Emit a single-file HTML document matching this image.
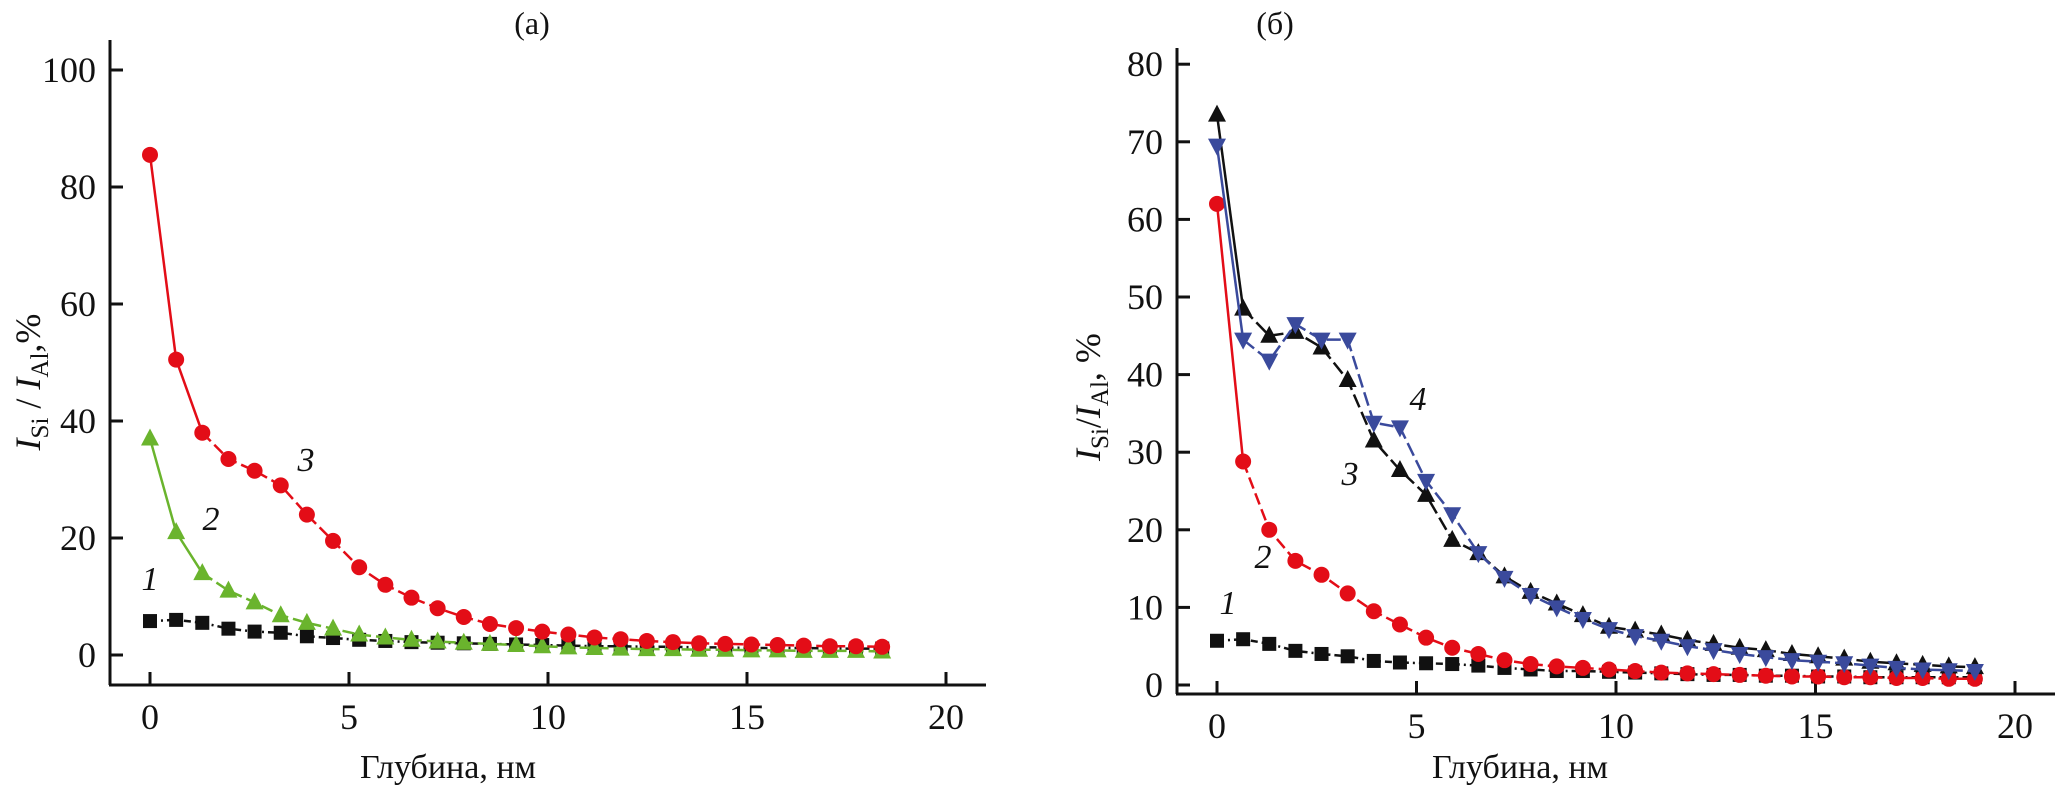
<!DOCTYPE html>
<html><head><meta charset="utf-8"><style>
html,body{margin:0;padding:0;background:#fff;}
svg{display:block;font-family:"Liberation Serif",serif;}
</style></head><body>
<svg id="c" width="2067" height="792" xmlns="http://www.w3.org/2000/svg"></svg>
<script>
// ---- data ----
const xStepA = 0.657;
const xStepB = 0.655;
const yTicksA = [0, 20, 40, 60, 80, 100];
const yTicksB = [0, 10, 20, 30, 40, 50, 60, 70, 80];
const xTicks = [0, 5, 10, 15, 20];
const a1 = [5.8,6.0,5.5,4.5,4.0,3.8,3.2,2.9,2.6,2.4,2.2,2.1,2.0,1.9,1.8,1.7,1.6,1.5,1.5,1.4,1.4,1.3,1.3,1.2,1.2,1.2,1.1,1.1,1.1];
const a2 = [37,21,14,11,9,6.8,5.5,4.5,3.5,3,2.6,2.3,2.1,1.9,1.7,1.5,1.3,1.2,1.1,1,1,0.9,0.9,0.8,0.8,0.7,0.7,0.7,0.6];
const a3 = [85.5,50.5,38,33.5,31.5,29,24,19.5,15,12,9.8,8,6.5,5.3,4.6,4,3.5,3,2.7,2.4,2.2,2,1.9,1.8,1.7,1.6,1.5,1.5,1.4];
const b1 = [5.7,5.9,5.3,4.4,4.0,3.7,3.1,2.9,2.8,2.7,2.5,2.2,2.0,1.8,1.8,1.7,1.6,1.5,1.4,1.3,1.3,1.2,1.2,1.1,1.1,1.0,1.0,1.0,1.0,1.0];
const b2 = [62,28.8,20,16,14.2,11.8,9.5,7.8,6.1,4.8,4,3.2,2.7,2.4,2.2,2.0,1.8,1.6,1.5,1.4,1.3,1.2,1.1,1.1,1.0,1.0,0.9,0.9,0.8,0.8];
const b3 = [73.5,48.5,45,45.5,43.5,39.3,31.5,27.7,24.5,18.7,17,14,12,10.5,9,7.5,7,6.5,5.8,5.3,4.8,4.5,4,3.7,3.4,3.0,2.8,2.6,2.4,2.3];
const b4 = [69.5,44.5,41.8,46.5,44.5,44.5,33.8,33.2,26.3,22,17,13.8,11.6,10,8.5,7.2,6.3,5.7,5.0,4.5,4.0,3.6,3.2,3.0,2.8,2.5,2.2,2.0,1.9,1.8];

const svg = document.getElementById('c');
const NS = 'http://www.w3.org/2000/svg';
function mk(tag, attrs, parent){ const e=document.createElementNS(NS,tag); for(const k in attrs) e.setAttribute(k,attrs[k]); (parent||svg).appendChild(e); return e; }

function panel(cfg){
  const g = mk('g',{});
  
  
  const X = v => cfg.x0 + v*cfg.xs;
  const Y = v => cfg.y0 - v*cfg.ys;
  const ya = mk('line',{x1:cfg.ax,y1:cfg.top,x2:cfg.ax,y2:cfg.xaxY,stroke:'#111','stroke-width':3},g);
   
  const xa = mk('line',{x1:cfg.ax-1,y1:cfg.xaxY,x2:cfg.right,y2:cfg.xaxY,stroke:'#111','stroke-width':3},g);
   
  cfg.yTicks.forEach(t=>{
    mk('line',{x1:cfg.ax,y1:Y(t),x2:cfg.ax+13,y2:Y(t),stroke:'#111','stroke-width':3},g);
    const tx = mk('text',{x:cfg.ax-14,y:Y(t)+12,'text-anchor':'end','font-size':36,fill:'#111'},g);
    tx.textContent = t;
     
  });
  xTicks.forEach(t=>{
    mk('line',{x1:X(t),y1:cfg.xaxY,x2:X(t),y2:cfg.xaxY-13,stroke:'#111','stroke-width':3},g);
    const tx = mk('text',{x:X(t),y:cfg.xaxY+44,'text-anchor':'middle','font-size':36,fill:'#111'},g);
    tx.textContent = t;
     
  });
  cfg.series.forEach(s=>{
    const pts = s.data.map((v,i)=>[X(i*cfg.step),Y(v)]);
    const solidPts = pts.slice(0, s.solid+1);
    if(s.solid>0){
      const p1 = mk('polyline',{points:solidPts.map(p=>p.join(',')).join(' '),fill:'none',stroke:s.color,'stroke-width':2.5},g);
       
    }
    const p2 = mk('polyline',{points:pts.slice(s.solid).map(p=>p.join(',')).join(' '),fill:'none',stroke:s.color,'stroke-width':2.5,'stroke-dasharray':s.dash},g);
     
    pts.forEach(p=>{
      let m;
      const [x,y]=p;
      if(s.marker==='circle') m = mk('circle',{cx:x,cy:y,r:8,fill:s.color},g);
      else if(s.marker==='square') m = mk('rect',{x:x-7,y:y-7,width:14,height:14,fill:s.color},g);
      else if(s.marker==='up') m = mk('polygon',{points:`${x},${y-10} ${x-9},${y+7} ${x+9},${y+7}`,fill:s.color},g);
      else m = mk('polygon',{points:`${x},${y+10} ${x-9},${y-7} ${x+9},${y-7}`,fill:s.color},g);
       
    });
  });
  cfg.labels.forEach(l=>{
    const t = mk('text',{x:l[1],y:l[2],'font-size':34,'font-style':'italic',fill:'#111','text-anchor':'middle'},g);
    t.textContent = l[0];
     
  });
  const xt = mk('text',{x:cfg.xtitleX,y:778,'font-size':34,'text-anchor':'middle',fill:'#111'},g);
  xt.textContent = 'Глубина, нм';
   
  const pt = mk('text',{x:cfg.titleX,y:34,'font-size':32,'text-anchor':'middle',fill:'#111'},g);
  pt.textContent = cfg.title;
   
  const yt = mk('text',{transform:`translate(${cfg.ytX},${cfg.ytY}) rotate(-90)`,'font-size':36,'text-anchor':'middle',fill:'#111'},g);
  yt.innerHTML = cfg.ytitle;
   
}

panel({name:'panel-a',x0:150,xs:39.8,y0:655,ys:5.85,ax:110,top:40,xaxY:685,right:986,step:xStepA,
  yTicks:yTicksA,title:'(a)',titleX:532,xtitleX:448,ytX:40,ytY:382,
  ytitle:'<tspan font-style="italic">I</tspan><tspan font-size="25" dy="8">Si</tspan><tspan dy="-8"> / </tspan><tspan font-style="italic">I</tspan><tspan font-size="25" dy="8">Al</tspan><tspan dy="-8">,%</tspan>',
  series:[
    {id:'a-series-1',data:a1,color:'#111',marker:'square',dash:'7,4,2,4',solid:0},
    {id:'a-series-2',data:a2,color:'#6ab42d',marker:'up',dash:'12,5',solid:2},
    {id:'a-series-3',data:a3,color:'#e30d17',marker:'circle',dash:'12,5',solid:2}],
  labels:[['1',150,590],['2',211,530],['3',306,471]]});

panel({name:'panel-b',x0:1217,xs:39.9,y0:685,ys:7.76,ax:1177,top:48,xaxY:694,right:2055,step:xStepB,
  yTicks:yTicksB,title:'(б)',titleX:1275,xtitleX:1520,ytX:1100,ytY:397,
  ytitle:'<tspan font-style="italic">I</tspan><tspan font-size="25" dy="8">Si</tspan><tspan dy="-8">/</tspan><tspan font-style="italic">I</tspan><tspan font-size="25" dy="8">Al</tspan><tspan dy="-8">, %</tspan>',
  series:[
    {id:'b-series-1',data:b1,color:'#111',marker:'square',dash:'7,4,2,4',solid:0},
    {id:'b-series-2',data:b2,color:'#e30d17',marker:'circle',dash:'12,5',solid:1},
    {id:'b-series-3',data:b3,color:'#111',marker:'up',dash:'14,5',solid:1},
    {id:'b-series-4',data:b4,color:'#3a4a9c',marker:'down',dash:'14,5',solid:1}],
  labels:[['1',1228,614],['2',1263,568],['3',1350,485],['4',1418,410]]});
</script>
</body></html>
